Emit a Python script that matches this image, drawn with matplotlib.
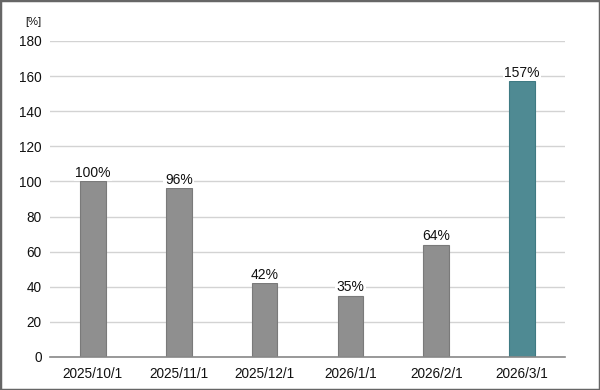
import matplotlib
matplotlib.use("Agg")
import matplotlib.pyplot as plt
from matplotlib.patches import Rectangle

categories = ["2025/10/1", "2025/11/1", "2025/12/1", "2026/1/1", "2026/2/1", "2026/3/1"]
values = [100, 96, 42, 35, 64, 157]
labels = ["100%", "96%", "42%", "35%", "64%", "157%"]
yticks = [0, 20, 40, 60, 80, 100, 120, 140, 160, 180]

plt.rcParams['font.family'] = ['Liberation Sans', 'DejaVu Sans']

fig = plt.figure(figsize=(6, 3.9), dpi=100)
ax = fig.add_axes([50/600, 1-357/390, 515/600, 316/390])

colors = ["#8f8f8f"] * 5 + ["#4f8a93"]
edges = ["#7a7a7a"] * 5 + ["#3f7a83"]
x = list(range(len(categories)))
ax.bar(x, values, width=0.3, color=colors, edgecolor=edges, linewidth=0.8, zorder=3)

for xi, v, lab in zip(x, values, labels):
    ax.text(xi, v + 1, lab, ha="center", va="bottom", fontsize=10, color="#111111",
            zorder=4, bbox=dict(facecolor="white", edgecolor="none", pad=1.0))

ax.set_xlim(-0.5, 5.5)
ax.set_ylim(0, 180)
ax.set_yticks(yticks)
ax.set_xticks(x)
ax.set_xticklabels(categories)
ax.tick_params(axis="both", length=0, labelsize=9.8, colors="#111111")
ax.tick_params(axis="y", pad=6)
ax.tick_params(axis="x", pad=7)
ax.grid(axis="y", color="#d3d3d3", linewidth=1.0, zorder=0)
for s in ["top", "right", "left"]:
    ax.spines[s].set_visible(False)
ax.spines["bottom"].set_color("#888888")
ax.spines["bottom"].set_linewidth(1.2)
ax.spines["bottom"].set_zorder(4)

fig.text(33/600, 1-22/390, "[%]", ha="center", va="center", fontsize=8, color="#111111")

fig.patches.append(Rectangle((0, 0), 1, 1, transform=fig.transFigure, fill=False,
                             edgecolor="#666666", linewidth=2.5, zorder=10))

fig.savefig("out.png", dpi=100)
